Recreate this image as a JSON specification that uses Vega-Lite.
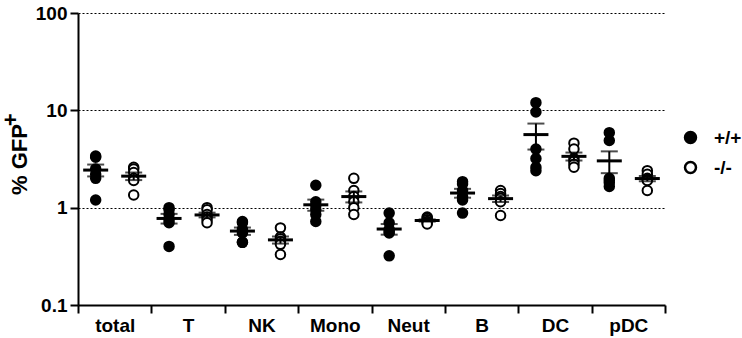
{
  "$schema": "https://vega.github.io/schema/vega-lite/v6.json",
  "autosize": "none",
  "width": 587,
  "height": 292,
  "padding": {"left": 78, "top": 13, "right": 77, "bottom": 33},
  "background": "white",
  "config": {
    "view": {"stroke": null},
    "font": "Liberation Sans",
    "axis": {"labelFont": "Liberation Sans", "titleFont": "Liberation Sans", "labelFontWeight": "bold", "titleFontWeight": "bold", "labelColor": "black", "titleColor": "black", "domainColor": "black", "tickColor": "black", "domainWidth": 2, "tickWidth": 2},
    "legend": {"labelFont": "Liberation Sans", "labelFontWeight": "bold"}
  },
  "data": {"values": [
    {"cell": "total", "geno": "+/+", "v": 3.4}, {"cell": "total", "geno": "+/+", "v": 3.3}, {"cell": "total", "geno": "+/+", "v": 2.5}, {"cell": "total", "geno": "+/+", "v": 2.2}, {"cell": "total", "geno": "+/+", "v": 2.0}, {"cell": "total", "geno": "+/+", "v": 1.2},
    {"cell": "total", "geno": "-/-", "v": 2.6}, {"cell": "total", "geno": "-/-", "v": 2.5}, {"cell": "total", "geno": "-/-", "v": 2.3}, {"cell": "total", "geno": "-/-", "v": 2.0}, {"cell": "total", "geno": "-/-", "v": 1.9}, {"cell": "total", "geno": "-/-", "v": 1.35},
    {"cell": "T", "geno": "+/+", "v": 1.0}, {"cell": "T", "geno": "+/+", "v": 0.95}, {"cell": "T", "geno": "+/+", "v": 0.85}, {"cell": "T", "geno": "+/+", "v": 0.75}, {"cell": "T", "geno": "+/+", "v": 0.7}, {"cell": "T", "geno": "+/+", "v": 0.4},
    {"cell": "T", "geno": "-/-", "v": 1.0}, {"cell": "T", "geno": "-/-", "v": 0.95}, {"cell": "T", "geno": "-/-", "v": 0.85}, {"cell": "T", "geno": "-/-", "v": 0.8}, {"cell": "T", "geno": "-/-", "v": 0.75}, {"cell": "T", "geno": "-/-", "v": 0.7},
    {"cell": "NK", "geno": "+/+", "v": 0.72}, {"cell": "NK", "geno": "+/+", "v": 0.7}, {"cell": "NK", "geno": "+/+", "v": 0.6}, {"cell": "NK", "geno": "+/+", "v": 0.55}, {"cell": "NK", "geno": "+/+", "v": 0.44}, {"cell": "NK", "geno": "+/+", "v": 0.44},
    {"cell": "NK", "geno": "-/-", "v": 0.62}, {"cell": "NK", "geno": "-/-", "v": 0.5}, {"cell": "NK", "geno": "-/-", "v": 0.48}, {"cell": "NK", "geno": "-/-", "v": 0.45}, {"cell": "NK", "geno": "-/-", "v": 0.42}, {"cell": "NK", "geno": "-/-", "v": 0.33},
    {"cell": "Mono", "geno": "+/+", "v": 1.7}, {"cell": "Mono", "geno": "+/+", "v": 1.15}, {"cell": "Mono", "geno": "+/+", "v": 1.05}, {"cell": "Mono", "geno": "+/+", "v": 0.95}, {"cell": "Mono", "geno": "+/+", "v": 0.85}, {"cell": "Mono", "geno": "+/+", "v": 0.72},
    {"cell": "Mono", "geno": "-/-", "v": 2.0}, {"cell": "Mono", "geno": "-/-", "v": 1.5}, {"cell": "Mono", "geno": "-/-", "v": 1.3}, {"cell": "Mono", "geno": "-/-", "v": 1.15}, {"cell": "Mono", "geno": "-/-", "v": 1.0}, {"cell": "Mono", "geno": "-/-", "v": 0.85},
    {"cell": "Neut", "geno": "+/+", "v": 0.88}, {"cell": "Neut", "geno": "+/+", "v": 0.7}, {"cell": "Neut", "geno": "+/+", "v": 0.6}, {"cell": "Neut", "geno": "+/+", "v": 0.57}, {"cell": "Neut", "geno": "+/+", "v": 0.55}, {"cell": "Neut", "geno": "+/+", "v": 0.32},
    {"cell": "Neut", "geno": "-/-", "v": 0.8}, {"cell": "Neut", "geno": "-/-", "v": 0.78}, {"cell": "Neut", "geno": "-/-", "v": 0.75}, {"cell": "Neut", "geno": "-/-", "v": 0.72}, {"cell": "Neut", "geno": "-/-", "v": 0.7}, {"cell": "Neut", "geno": "-/-", "v": 0.68},
    {"cell": "B", "geno": "+/+", "v": 1.85}, {"cell": "B", "geno": "+/+", "v": 1.75}, {"cell": "B", "geno": "+/+", "v": 1.5}, {"cell": "B", "geno": "+/+", "v": 1.3}, {"cell": "B", "geno": "+/+", "v": 1.2}, {"cell": "B", "geno": "+/+", "v": 0.88},
    {"cell": "B", "geno": "-/-", "v": 1.5}, {"cell": "B", "geno": "-/-", "v": 1.4}, {"cell": "B", "geno": "-/-", "v": 1.3}, {"cell": "B", "geno": "-/-", "v": 1.25}, {"cell": "B", "geno": "-/-", "v": 1.15}, {"cell": "B", "geno": "-/-", "v": 0.83},
    {"cell": "DC", "geno": "+/+", "v": 12.0}, {"cell": "DC", "geno": "+/+", "v": 9.6}, {"cell": "DC", "geno": "+/+", "v": 4.0}, {"cell": "DC", "geno": "+/+", "v": 3.2}, {"cell": "DC", "geno": "+/+", "v": 2.6}, {"cell": "DC", "geno": "+/+", "v": 2.4},
    {"cell": "DC", "geno": "-/-", "v": 4.6}, {"cell": "DC", "geno": "-/-", "v": 4.0}, {"cell": "DC", "geno": "-/-", "v": 3.2}, {"cell": "DC", "geno": "-/-", "v": 3.0}, {"cell": "DC", "geno": "-/-", "v": 2.8}, {"cell": "DC", "geno": "-/-", "v": 2.6},
    {"cell": "pDC", "geno": "+/+", "v": 5.9}, {"cell": "pDC", "geno": "+/+", "v": 4.9}, {"cell": "pDC", "geno": "+/+", "v": 2.0}, {"cell": "pDC", "geno": "+/+", "v": 1.9}, {"cell": "pDC", "geno": "+/+", "v": 1.8}, {"cell": "pDC", "geno": "+/+", "v": 1.65},
    {"cell": "pDC", "geno": "-/-", "v": 2.4}, {"cell": "pDC", "geno": "-/-", "v": 2.2}, {"cell": "pDC", "geno": "-/-", "v": 2.0}, {"cell": "pDC", "geno": "-/-", "v": 1.95}, {"cell": "pDC", "geno": "-/-", "v": 1.9}, {"cell": "pDC", "geno": "-/-", "v": 1.5}
  ]},
  "encoding": {
    "x": {"field": "cell", "type": "nominal", "sort": ["total", "T", "NK", "Mono", "Neut", "B", "DC", "pDC"],
      "scale": {"paddingInner": 0, "paddingOuter": 0},
      "axis": {"title": null, "labelAngle": 0, "labelFontSize": 19, "tickBand": "extent", "tickSize": 8, "labelPadding": 3}},
    "xOffset": {"field": "geno", "type": "nominal", "scale": {"type": "point", "padding": 0.465}}
  },
  "layer": [
    {
      "mark": {"type": "point", "shape": "circle", "filled": true, "size": 90, "stroke": "black", "strokeWidth": 2, "opacity": 1},
      "encoding": {
        "y": {"field": "v", "type": "quantitative", "title": ["\u200b\u00a0\u00a0\u00a0\u00a0\u00a0\u00a0\u00a0\u00a0\u00a0\u00a0\u00a0\u00a0\u00a0+", "% GFP"],
          "scale": {"type": "log", "domain": [0.1, 100], "nice": false},
          "axis": {"titleFontSize": 22, "titleLineHeight": 9, "titlePadding": 4, "values": [0.1, 1, 10, 100], "format": ".1~f", "labelFontSize": 19, "tickSize": 8, "labelPadding": 3,
            "grid": true, "gridColor": "black", "gridDash": [2, 2], "gridWidth": 1, "gridOpacity": 1}},
        "fill": {"field": "geno", "type": "nominal", "scale": {"domain": ["+/+", "-/-"], "range": ["black", "white"]},
          "legend": {"title": null, "orient": "none", "legendX": 603, "legendY": 115, "labelFontSize": 19, "symbolSize": 120, "symbolStrokeColor": "black", "symbolStrokeWidth": 2.5, "rowPadding": 9, "labelOffset": 14}}
      }
    },
    {
      "mark": {"type": "errorbar", "extent": "stderr", "ticks": {"size": 17, "thickness": 2, "color": "black"}, "rule": {"strokeWidth": 2, "color": "black"}},
      "encoding": {"y": {"field": "v", "type": "quantitative", "title": ["\u200b\u00a0\u00a0\u00a0\u00a0\u00a0\u00a0\u00a0\u00a0\u00a0\u00a0\u00a0\u00a0\u00a0+", "% GFP"]}}
    },
    {
      "mark": {"type": "tick", "color": "black", "size": 25, "thickness": 3, "orient": "horizontal"},
      "encoding": {"y": {"aggregate": "mean", "field": "v", "type": "quantitative", "title": ["\u200b\u00a0\u00a0\u00a0\u00a0\u00a0\u00a0\u00a0\u00a0\u00a0\u00a0\u00a0\u00a0\u00a0+", "% GFP"]}}
    }
  ]
}
